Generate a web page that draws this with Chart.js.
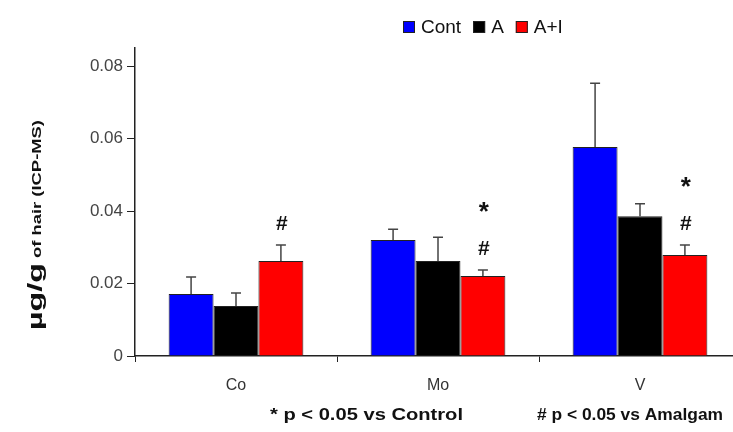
<!DOCTYPE html>
<html>
<head>
<meta charset="utf-8">
<script src="https://cdn.jsdelivr.net/npm/chart.js@4.4.0/dist/chart.umd.min.js"></script>
<style>
  html, body { margin: 0; padding: 0; background: #fff; overflow: hidden; }
  #wrap { width: 745px; height: 432px; }
</style>
</head>
<body>
<div id="wrap"><canvas id="grafico" width="745" height="432"></canvas></div>
<script>
// dados
const categorias = ["Co", "Mo", "V"];
const series = ["Cont", "A", "A+I"];
const cores = ["#0000ff", "#000000", "#ff0000"];
const valCont = [0.0171, 0.0320, 0.0577];
const valA = [0.0138, 0.0262, 0.0386];
const valAI = [0.0262, 0.0221, 0.0279];
const errCont = [0.0047, 0.0030, 0.0176];
const errA = [0.0036, 0.0066, 0.0034];
const errAI = [0.0044, 0.0016, 0.0027];
const marcas = [["#"], ["#", "*"], ["#", "*"]]; // sobre as barras A+I, de baixo pra cima
const ticksY = [0, 0.02, 0.04, 0.06, 0.08];
const rodape = ["* p < 0.05 vs Control", "# p < 0.05 vs Amalgam"];

const valores = [valCont, valA, valAI];
const erros = [errCont, errA, errAI];

const barrasErro = {
  id: "barrasErro",
  afterDatasetsDraw(chart) {
    const ctx = chart.ctx;
    const y = chart.scales.y;
    ctx.save();
    ctx.strokeStyle = "#444";
    ctx.lineWidth = 1.5;
    chart.data.datasets.forEach((ds, i) => {
      const meta = chart.getDatasetMeta(i);
      meta.data.forEach((bar, j) => {
        const topo = y.getPixelForValue(ds.data[j] + erros[i][j]);
        ctx.beginPath();
        ctx.moveTo(bar.x, bar.y);
        ctx.lineTo(bar.x, topo);
        ctx.moveTo(bar.x - 5, topo);
        ctx.lineTo(bar.x + 5, topo);
        ctx.stroke();
      });
    });
    // marcas de significancia
    const metaAI = chart.getDatasetMeta(2);
    ctx.fillStyle = "#111";
    ctx.textAlign = "center";
    ctx.textBaseline = "middle";
    metaAI.data.forEach((bar, j) => {
      let py = y.getPixelForValue(valAI[j] + errAI[j]) - 21;
      marcas[j].forEach(m => {
        ctx.font = m === "*" ? "bold 26px Arial" : "bold 21px Arial";
        ctx.fillText(m, bar.x + 1, m === "*" ? py + 7 : py);
        py -= 43;
      });
    });
    ctx.restore();
  }
};

const extras = {
  id: "extras",
  afterDraw(chart) {
    const ctx = chart.ctx;
    ctx.save();
    // legenda
    ctx.textBaseline = "middle";
    ctx.textAlign = "left";
    ctx.font = "19px Arial";
    let x = 403;
    series.forEach((s, i) => {
      ctx.fillStyle = cores[i];
      ctx.fillRect(x, 21, 12, 12);
      ctx.strokeStyle = "#222";
      ctx.lineWidth = 1;
      ctx.strokeRect(x + 0.5, 21.5, 11, 11);
      ctx.fillStyle = "#111";
      ctx.fillText(s, x + 18, 28);
      x += 18 + ctx.measureText(s).width + 12;
    });
    // titulo eixo y
    ctx.translate(36, 225);
    ctx.rotate(-Math.PI / 2);
    const t1 = "\u00b5g/g";
    const t2 = " of hair (ICP-MS)";
    ctx.font = "bold 21px Arial";
    const w1 = ctx.measureText(t1).width;
    ctx.font = "bold 12px Arial";
    const w2 = ctx.measureText(t2).width;
    const esc = 210 / (w1 + w2);
    ctx.scale(esc, 1);
    const sx = -(w1 + w2) / 2;
    ctx.fillStyle = "#111";
    ctx.textBaseline = "alphabetic";
    ctx.font = "bold 21px Arial";
    ctx.fillText(t1, sx, 6);
    ctx.font = "bold 12px Arial";
    ctx.fillText(t2, sx + w1, 5);
    ctx.setTransform(1, 0, 0, 1, 0, 0);
    // rodape (cada texto esticado para a largura)
    const posRodape = [[270, 193], [537, 186]];
    ctx.font = "bold 16px Arial";
    ctx.textBaseline = "middle";
    rodape.forEach((t, i) => {
      const w = ctx.measureText(t).width;
      ctx.save();
      ctx.translate(posRodape[i][0], 416);
      ctx.scale(posRodape[i][1] / w, 1);
      ctx.fillText(t, 0, 0);
      ctx.restore();
    });
    ctx.restore();
  }
};

new Chart(document.getElementById("grafico"), {
  type: "bar",
  data: {
    labels: categorias,
    datasets: series.map((s, i) => ({
      label: s,
      data: valores[i],
      backgroundColor: cores[i],
      borderColor: "#222",
      borderWidth: 1,
      categoryPercentage: 0.667,
      barPercentage: 1
    }))
  },
  options: {
    responsive: false,
    animation: false,
    layout: { padding: { top: 48, right: 4, left: 0, bottom: 0 } },
    plugins: { legend: { display: false }, tooltip: { enabled: false } },
    scales: {
      x: {
        grid: { offset: true, drawOnChartArea: false, tickLength: 6, color: "#222" },
        border: { color: "#222", width: 1.5 },
        ticks: { color: "#333", font: { size: 16, family: "Arial" }, padding: 14 },
        afterFit(s) { s.height = 76; }
      },
      y: {
        min: 0,
        max: 0.085,
        grid: { drawOnChartArea: false, tickLength: 8, color: "#222" },
        border: { color: "#222", width: 1.5 },
        afterBuildTicks(s) { s.ticks = ticksY.map(v => ({ value: v })); },
        ticks: {
          color: "#444",
          padding: 4,
          font: { size: 17, family: "Arial" },
          callback: v => (v === 0 ? "0" : v.toFixed(2))
        },
        afterFit(s) { s.width = 135; }
      }
    }
  },
  plugins: [barrasErro, extras]
});
</script>
</body>
</html>
